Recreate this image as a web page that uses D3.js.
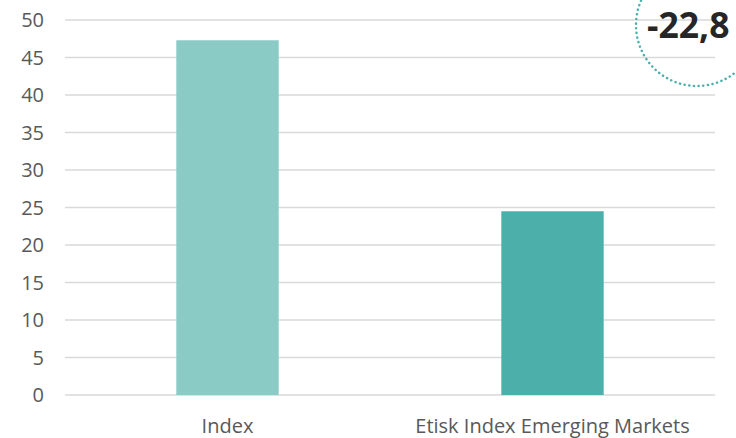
<!DOCTYPE html>
<html><head><meta charset="utf-8">
<script src="https://cdn.jsdelivr.net/npm/d3@7"></script>
<style>
html,body{margin:0;padding:0;background:#fff;}
svg{display:block;}
</style></head>
<body>
<svg id="c" width="736" height="438"></svg>
<script>
const categories = ["Index", "Etisk Index Emerging Markets"];
const values = [47.3, 24.5];
const barColors = ["#8ACBC5", "#4DAFAA"];
const yTicks = [0, 5, 10, 15, 20, 25, 30, 35, 40, 45, 50];
const diffLabel = "-22,8";

const svg = d3.select("#c");
const font = "'Open Sans', sans-serif";
const x0 = 65, x1 = 715, yTop = 20, yBot = 395;

const y = d3.scaleLinear().domain([0, 50]).range([yBot, yTop]);
const x = d3.scaleBand().domain(categories).range([x0, x1]).padding(0);
const barW = x.bandwidth() * 0.315;

// gridlines
svg.append("g").selectAll("line").data(yTicks).join("line")
  .attr("x1", x0).attr("x2", x1)
  .attr("y1", d => y(d)).attr("y2", d => y(d))
  .attr("stroke", "#d9d9d9").attr("stroke-width", 1.5);

// y tick labels
svg.append("g").selectAll("text").data(yTicks).join("text")
  .attr("x", 44).attr("y", d => y(d))
  .attr("dy", "0.36em").attr("text-anchor", "end")
  .attr("font-family", font).attr("font-size", 20).attr("fill", "#595959")
  .text(d => d);

// bars
svg.append("g").selectAll("rect").data(categories).join("rect")
  .attr("x", d => x(d) + x.bandwidth() / 2 - barW / 2)
  .attr("width", barW)
  .attr("y", (d, i) => y(values[i]))
  .attr("height", (d, i) => y(0) - y(values[i]))
  .attr("fill", (d, i) => barColors[i]);

// x labels
svg.append("g").selectAll("text").data(categories).join("text")
  .attr("x", d => x(d) + x.bandwidth() / 2).attr("y", 433)
  .attr("text-anchor", "middle")
  .attr("font-family", font).attr("font-size", 20).attr("fill", "#595959")
  .text(d => d);

// dotted circle with difference
svg.append("circle").attr("cx", 697).attr("cy", 25).attr("r", 61)
  .attr("fill", "none").attr("stroke", "#4DAFAA").attr("stroke-width", 2.5)
  .attr("stroke-dasharray", "0.1 4.6").attr("stroke-linecap", "round");
svg.append("text").attr("x", 647).attr("y", 38)
  .attr("font-family", font).attr("font-weight", "bold").attr("font-size", 35.5)
  .attr("fill", "#262626").text(diffLabel);
</script>
</body></html>
